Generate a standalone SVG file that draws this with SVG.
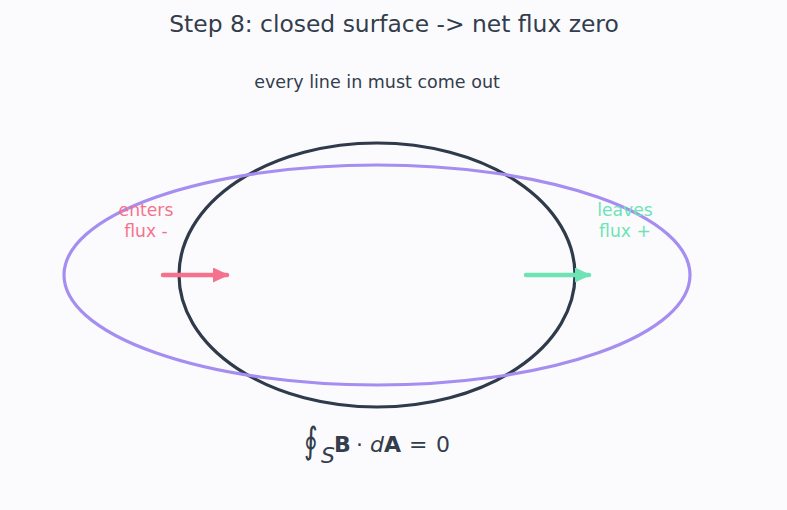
<svg xmlns="http://www.w3.org/2000/svg" width="787" height="510" viewBox="0 0 787 510">
<style>
text{font-family:"DejaVu Sans",sans-serif;}
.t{font-size:23.4px;fill:#333d4c;}
.s{font-size:17.5px;fill:#333d4c;}
.lab{font-size:17.2px;text-anchor:middle;}
.ring{fill:none;stroke-width:3.2;}
.arr{stroke-width:4.5;stroke-linecap:round;fill:none;}
.f{font-size:22px;fill:#333d4c;}
</style>
<defs>
<marker id="ar" viewBox="0 0 16 15" refX="14" refY="7.5" markerWidth="16" markerHeight="15" orient="auto" markerUnits="userSpaceOnUse"><path d="M0,0L16,7.5L0,15z" fill="#f6728c"/></marker>
<marker id="ag" viewBox="0 0 16 15" refX="14" refY="7.5" markerWidth="16" markerHeight="15" orient="auto" markerUnits="userSpaceOnUse"><path d="M0,0L16,7.5L0,15z" fill="#6ee4b5"/></marker>
</defs>
<rect width="787" height="510" fill="#fbfbfe"/>
<text class="t" x="394" y="32" text-anchor="middle">Step 8: closed surface -&gt; net flux zero</text>
<text class="s" x="377" y="88" text-anchor="middle">every line in must come out</text>
<g id="surface"><ellipse class="ring" cx="377" cy="275" rx="198" ry="132" stroke="#2f3a4a"/></g>
<g id="field"><ellipse class="ring" cx="377" cy="275" rx="313" ry="110" stroke="#a58ef0"/></g>
<g id="connectors">
<line class="arr" x1="163" y1="275" x2="227" y2="275" stroke="#f6728c" marker-end="url(#ar)"/>
<line class="arr" x1="526" y1="275" x2="589" y2="275" stroke="#6ee4b5" marker-end="url(#ag)"/>
</g>
<g id="enters"><text class="lab" x="146" y="216" fill="#f6728c">enters</text><text class="lab" x="146" y="237" fill="#f6728c">flux -</text></g>
<g id="leaves"><text class="lab" x="625" y="216" fill="#6ee4b5">leaves</text><text class="lab" x="625" y="237" fill="#6ee4b5">flux +</text></g>
<g id="formula">
<text class="f" font-size="30" text-anchor="middle" transform="translate(311,453) scale(1.2,1.65)">∮</text>
<text class="f" x="321" y="463" font-size="18" font-style="italic">S</text>
<text class="f" x="334" y="452" font-weight="bold">B</text>
<text class="f" x="356" y="452">·</text>
<text class="f" x="370" y="452" font-style="italic">d</text>
<text class="f" x="384" y="452" font-weight="bold">A</text>
<text class="f" x="409" y="452">=</text>
<text class="f" x="436" y="452">0</text>
</g>
</svg>
